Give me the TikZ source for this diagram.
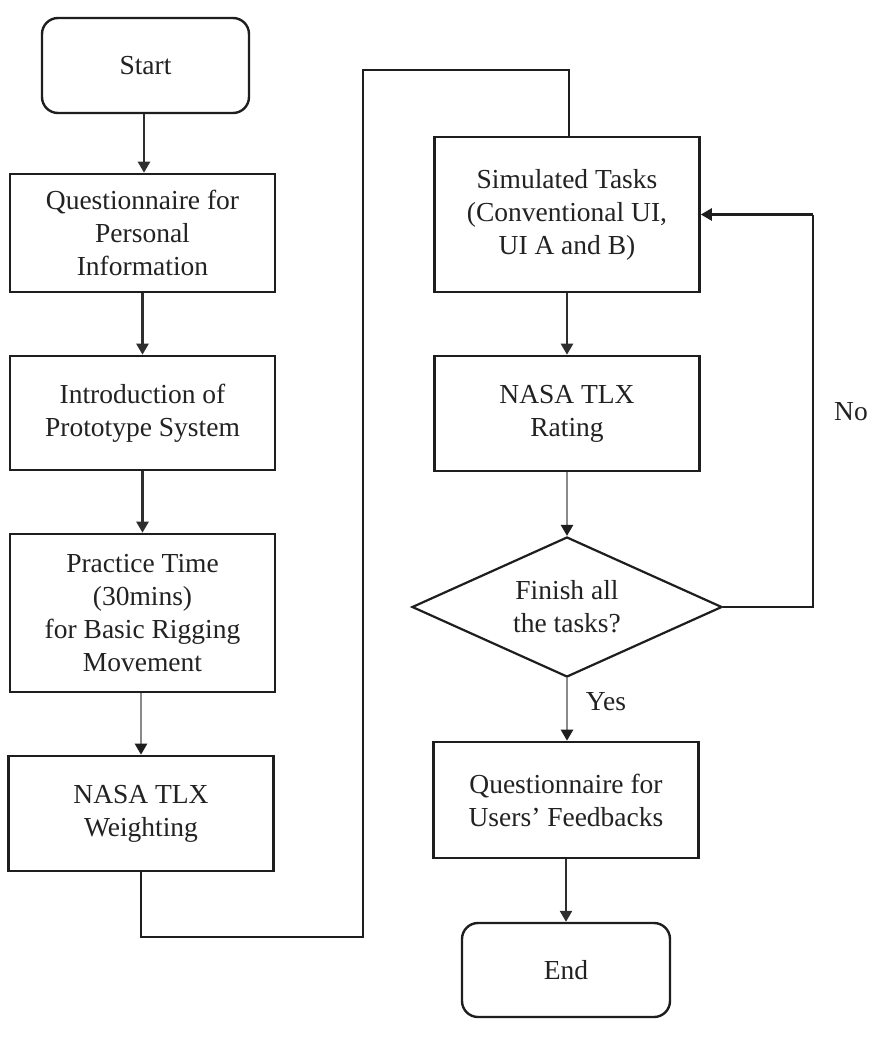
\documentclass[tikz,border=0pt]{standalone}
\usepackage{fontspec}
\setmainfont{Liberation Serif}
\usetikzlibrary{arrows.meta,shapes.geometric,positioning}
\definecolor{ink}{HTML}{1E1E1E}
\definecolor{txt}{HTML}{222222}
\definecolor{darkarrow}{HTML}{2E2E2E}
\definecolor{lightarrow}{HTML}{8A8A8A}
\tikzset{
  every node/.style={font=\fontsize{27.5}{33}\selectfont, text=txt},
  procbox/.style={draw=ink, line width=2.6pt, rectangle, inner sep=0pt, align=center, minimum width=265pt},
  termbox/.style={draw=ink, line width=2.4pt, rectangle, rounded corners=16pt, inner sep=0pt, align=center},
  decbox/.style={draw=ink, line width=2.2pt, diamond, aspect=2.2, inner sep=0pt, align=center, minimum width=310pt, minimum height=140pt},
  flowarrow/.style={line width=2.4pt, draw=darkarrow, -{Triangle[width=12pt,length=11pt]}},
  grayarrow/.style={line width=2.4pt, draw=lightarrow, -{Triangle[width=12pt,length=11pt,fill=ink,color=ink]}},
  plainline/.style={line width=2.4pt, draw=ink},
  lbl/.style={inner sep=0pt}
}
\begin{document}
\begin{tikzpicture}[x=1pt,y=-1pt]
\useasboundingbox[fill=white] (0,0) rectangle (882,1037);

% left column
\node[termbox, minimum width=207pt, minimum height=95pt] (start) at (145.5,65.5) {\raisebox{-3pt}{Start}};
\node[procbox, minimum height=118pt] (q1) at (142.5,233) {Questionnaire for\\Personal\\Information};
\node[procbox, minimum height=114pt] (intro) at (142.5,413) {Introduction of\\Prototype System};
\node[procbox, minimum height=158pt] (prac) at (142.5,613) {Practice Time\\(30mins)\\for Basic Rigging\\Movement};
\node[procbox, minimum height=115pt] (weight) at (141,813.5) {NASA TLX\\Weighting};

% right column
\node[procbox, minimum height=155pt] (sim) at (567,214.5) {Simulated Tasks\\(Conventional UI,\\UI A and B)};
\node[procbox, minimum height=115pt] (rate) at (567,413.5) {NASA TLX\\Rating};
\node[decbox] (dec) at (567,607) {Finish all\\the tasks?};
\node[procbox, minimum height=116pt] (fb) at (566,800) {Questionnaire for\\Users' Feedbacks};
\node[termbox, minimum width=208pt, minimum height=94pt] (end) at (566,970) {End};

% connector waypoints
\coordinate (w1) at (141,937);
\coordinate (w2) at (363,937);
\coordinate (w3) at (363,70);
\coordinate (w4) at (569,70);
\coordinate (n1) at (813,607);
\coordinate (n2) at (813,214.5);

% arrows
\draw[flowarrow] (start.south -| 144,0) -- (144,0 |- q1.north);
\draw[flowarrow] (q1) -- (intro);
\draw[flowarrow] (intro) -- (prac);
\draw[grayarrow] (prac.south -| 141,0) -- (141,0 |- weight.north);
\draw[plainline] (weight.south) -- (w1) -- (w2) -- (w3) -- (w4) -- (w4 |- sim.north);
\draw[flowarrow] (sim) -- (rate);
\draw[grayarrow] (rate.south) -- (dec.north);
\draw[grayarrow] (dec.south) -- (dec.south |- fb.north);
\draw[flowarrow] (fb) -- (end);
\draw[plainline] (dec.east) -- (n1) -- (n2);
\draw[flowarrow, draw=ink] (n2) -- (sim.east);

% labels
\node[lbl] (yes) at (606,702) {Yes};
\node[lbl] (no) at (851,412) {No};
\end{tikzpicture}
\end{document}
